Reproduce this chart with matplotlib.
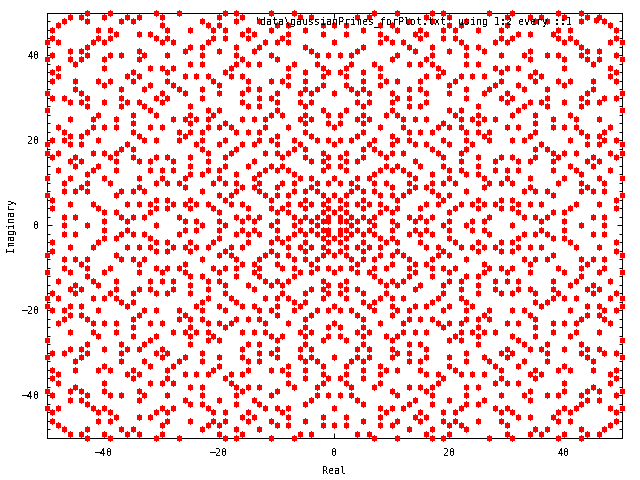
import matplotlib
matplotlib.use("Agg")
import matplotlib.pyplot as plt
from matplotlib.path import Path

# Lattice points for one octant (real part a, imaginary parts b >= a > 0), spot-checked against the reference.
# The reference is symmetric, so the other octants are its reflections.
AXIS_VALUES = [3, 7, 11, 19, 23, 31, 43, 47]
REAL_PARTS = list(range(1, 48))
IMAG_PARTS = [
    [1, 2, 4, 6, 10, 14, 16, 20, 24, 26, 36, 40],
    [3, 5, 7, 13, 15, 17, 27, 33, 35, 37, 45, 47],
    [8, 10, 20, 32, 38, 40],
    [5, 9, 11, 15, 21, 25, 29, 31, 41, 49],
    [6, 8, 16, 18, 22, 24, 26, 28, 32, 34, 36, 42, 46],
    [11, 19, 25, 29, 31, 49],
    [8, 10, 12, 18, 20, 38, 50],
    [13, 17, 23, 33, 35, 37, 43, 45, 47],
    [10, 14, 16, 26, 34, 44],
    [13, 17, 19, 21, 27, 29, 31, 39, 43, 47],
    [14, 20, 26, 30, 34, 40, 46, 50],
    [13, 17, 23, 25, 43],
    [20, 22, 28, 30, 32, 38, 42, 48],
    [15, 19, 25, 41, 45],
    [22, 28, 32, 34, 38, 44, 46],
    [19, 25, 29, 31, 35, 39, 45, 49],
    [18, 22, 38, 40, 42, 48, 50],
    [23, 35, 37],
    [20, 24, 36, 44, 46, 50],
    [23, 27, 31, 33, 41, 47, 49],
    [26, 34, 44, 46],
    [23, 25, 27, 35, 43, 47],
    [30, 32, 38, 40, 42, 48],
    [25, 35],
    [26, 28, 38, 42, 46],
    [31, 35, 41],
    [32, 50],
    [33, 37, 43],
    [30, 34, 36, 40, 44, 46],
    [31, 37, 43, 47, 49],
    [44, 50],
    [33, 37, 45],
    [40],
    [35, 39, 41, 45, 49],
    [36, 48],
    [49],
    [40, 48],
    [45],
    [40, 44, 46, 50],
    [43, 49],
    [44, 46],
    [43],
    [48, 50],
    [49],
    [],
    [49],
    [48],
]
TICKS = [-40, -20, 0, 20, 40]
LEGEND_LABEL = "'data\\gaussianPrimes_forPlot.txt' using 1:2 every ::1"

points = set()
for v in AXIS_VALUES:
    points |= {(v, 0), (-v, 0), (0, v), (0, -v)}
for a, bs in zip(REAL_PARTS, IMAG_PARTS):
    for b in bs:
        for p, q in ((a, b), (b, a)):
            points |= {(p, q), (-p, q), (p, -q), (-p, -q)}
xs = [p[0] for p in points]
ys = [p[1] for p in points]

plt.rcParams["font.family"] = "DejaVu Sans Mono"
plt.rcParams["font.size"] = 7.2
plt.rcParams["text.antialiased"] = False

fig = plt.figure(figsize=(6.4, 4.8), dpi=100)
W, H = 640, 480
L, R, T, B = 46.5, 621.5, 12.5, 438.0
ax = fig.add_axes([L / W, 1 - B / H, (R - L) / W, (B - T) / H])

MARKER = Path([(-0.5, -3.5), (0.5, -3.5), (0.5, -2.5), (2.5, -2.5), (2.5, 2.5), (0.5, 2.5), (0.5, 3.5),
               (-0.5, 3.5), (-0.5, 2.5), (-2.5, 2.5), (-2.5, -2.5), (-0.5, -2.5), (-0.5, -3.5)], closed=True)

ax.plot(xs, ys, ls="none", marker=MARKER, ms=5.04, mfc="#ff0000", mec="none", mew=0,
        clip_on=False, antialiased=False, zorder=3, label=LEGEND_LABEL)
ax.set_xlim(-50, 50)
ax.set_ylim(-50, 50)
ax.set_xticks(TICKS)
ax.set_yticks(TICKS)
ax.set_yticks(range(-50, 51, 2), minor=True)
ax.tick_params(axis="both", which="major", direction="in", length=3.6, width=0.72, top=True, right=True, pad=5)
ax.tick_params(axis="x", which="major", pad=7)
ax.tick_params(axis="y", which="minor", direction="in", length=2.2, width=0.72, left=True, right=True)
for s in ax.spines.values():
    s.set_linewidth(0.72)
    s.set_zorder(2)
ax.set_xlabel("Real", labelpad=6)
ax.set_ylabel("Imaginary", labelpad=4)
leg = ax.legend(loc="upper right", bbox_to_anchor=((612 - L) / (R - L), 1.005), frameon=False, markerfirst=False,
                handlelength=2.2, handletextpad=1.2, borderpad=0.55, borderaxespad=0, numpoints=1)
leg.set_zorder(5)
fig.savefig("out.png", dpi=100)
